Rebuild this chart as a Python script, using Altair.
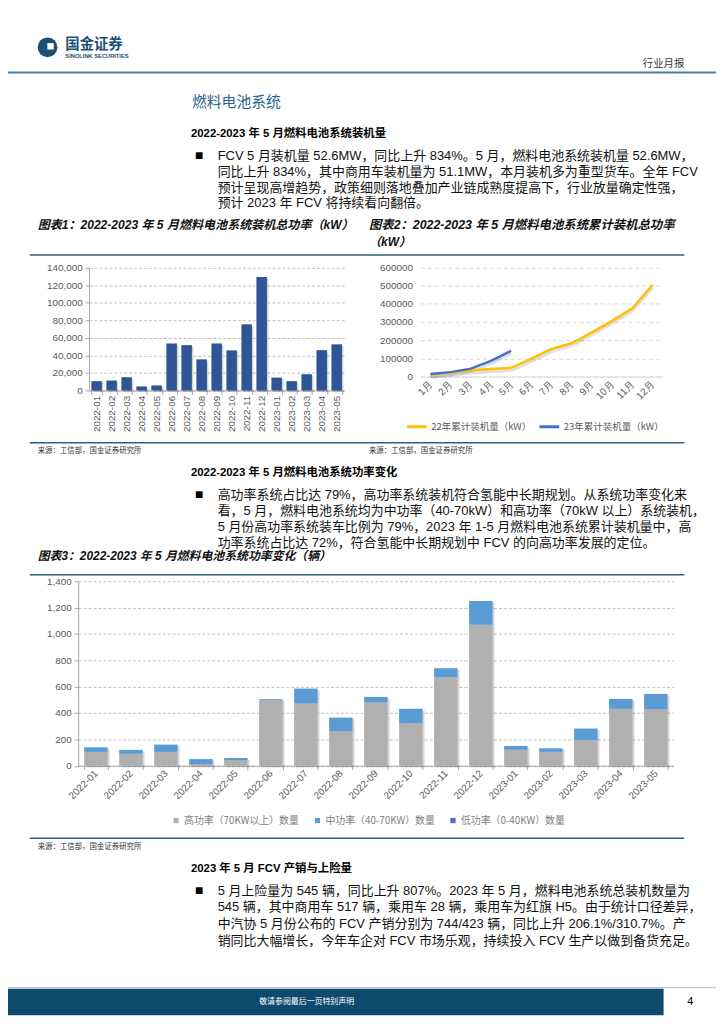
import altair as alt
import pandas as pd

# ---------------- data ----------------
months = ["2022-01", "2022-02", "2022-03", "2022-04", "2022-05", "2022-06", "2022-07",
          "2022-08", "2022-09", "2022-10", "2022-11", "2022-12", "2023-01", "2023-02",
          "2023-03", "2023-04", "2023-05"]
power_kw = [10600, 11300, 15100, 4500, 5700, 53600, 51700, 35500, 53600, 45700, 75500,
            129400, 14700, 10600, 18500, 46000, 52600]
y1_ticks = [0, 20000, 40000, 60000, 80000, 100000, 120000, 140000]

cum_months = ["1月", "2月", "3月", "4月", "5月", "6月", "7月", "8月", "9月", "10月", "11月", "12月"]
series_names = ["22年累计装机量（kW）", "23年累计装机量（kW）"]
cum22 = [11000, 22000, 35000, 42000, 48000, 98000, 152000, 183000, 243000, 306000, 375000, 503000]
cum23 = [14700, 24500, 43500, 86000, 141000]
y2_ticks = [0, 100000, 200000, 300000, 400000, 500000, 600000]

power_types = ["高功率（70KW以上）数量", "中功率（40-70KW）数量", "低功率（0-40KW）数量"]
high_cnt = [105, 90, 105, 12, 42, 500, 472, 262, 480, 322, 672, 1070, 120, 105, 195, 432, 430]
mid_cnt = [35, 30, 55, 38, 16, 7, 113, 103, 42, 110, 68, 180, 30, 27, 87, 75, 115]
low_cnt = [0, 0, 0, 0, 0, 0, 0, 0, 0, 0, 0, 0, 0, 0, 0, 0, 0]
y3_ticks = [0, 200, 400, 600, 800, 1000, 1200, 1400]

para1 = ["FCV 5 月装机量 52.6MW，同比上升 834%。5 月，燃料电池系统装机量 52.6MW，",
         "同比上升 834%，其中商用车装机量为 51.1MW，本月装机多为重型货车。全年 FCV",
         "预计呈现高增趋势，政策细则落地叠加产业链成熟度提高下，行业放量确定性强，",
         "预计 2023 年 FCV 将持续看向翻倍。"]
para2 = ["高功率系统占比达 79%，高功率系统装机符合氢能中长期规划。从系统功率变化来",
         "看，5 月，燃料电池系统均为中功率（40-70kW）和高功率（70kW 以上）系统装机，",
         "5 月份高功率系统装车比例为 79%，2023 年 1-5 月燃料电池系统累计装机量中，高",
         "功率系统占比达 72%，符合氢能中长期规划中 FCV 的向高功率发展的定位。"]
para3 = ["5 月上险量为 545 辆，同比上升 807%。2023 年 5 月，燃料电池系统总装机数量为",
         "545 辆，其中商用车 517 辆，乘用车 28 辆，乘用车为红旗 H5。由于统计口径差异，",
         "中汽协 5 月份公布的 FCV 产销分别为 744/423 辆，同比上升 206.1%/310.7%。产",
         "销同比大幅增长，今年车企对 FCV 市场乐观，持续投入 FCV 生产以做到备货充足。"]

# ---------------- layout helpers ----------------
W, H = 716, 1016
FONT = "Liberation Sans, Noto Sans CJK SC"
CJK = "Noto Sans CJK SC"
one = pd.DataFrame({"k": [0]})


def P(v):
    return v - 8


def txt(x, y, s, size, color="#000000", weight="normal", align="left", style="normal", font=FONT):
    return alt.Chart(one).mark_text(align=align, baseline="middle", fontSize=size, font=font,
                                    fontWeight=weight, fontStyle=style, color=color).encode(
        x=alt.value(P(x)), y=alt.value(P(y)), text=alt.value(s))


def hline(x1, x2, y, color, w):
    return alt.Chart(one).mark_rule(color=color, strokeWidth=w).encode(
        x=alt.value(P(x1)), x2=alt.value(P(x2)), y=alt.value(P(y)))


def box(x1, x2, y1, y2, color):
    return alt.Chart(one).mark_rect(color=color).encode(
        x=alt.value(P(x1)), x2=alt.value(P(x2)), y=alt.value(P(y1)), y2=alt.value(P(y2)))


def dot(x, y, size, color, shape="circle"):
    return alt.Chart(one).mark_point(shape=shape, filled=True, size=size, color=color, opacity=1).encode(
        x=alt.value(P(x)), y=alt.value(P(y)))


BODY = 13.1
deco = []
# header
deco.append(dot(48, 42, 400, "#1B4F77"))
deco.append(dot(51, 41, 42, "#FFFFFF", "square"))
deco.append(txt(66, 40, "国金证券", 14.5, "#1B4F77", "bold", font=CJK))
deco.append(txt(66, 51, "SINOLINK SECURITIES", 5.8, "#1B4F77", "bold"))
deco.append(txt(692, 59, "行业月报", 10.5, "#333333", align="right", font=CJK))
deco.append(hline(8, 724, 67.5, "#4F7FA0", 2))
deco.append(txt(194, 97, "燃料电池系统", 15, "#2B6290", font=CJK))

# section 1
deco.append(txt(193, 130, "2022-2023 年 5 月燃料电池系统装机量", 11.5, "#000000", "bold"))
deco.append(txt(197, 152, "■", 8.5, "#000000", font=CJK))
for i, line in enumerate(para1):
    deco.append(txt(220, 152 + 16 * i, line, BODY, "#111111"))

deco.append(txt(38, 222, "图表1：2022-2023 年 5 月燃料电池系统装机总功率（kW）", 12.2, "#111111", "bold", style="italic"))
deco.append(txt(373, 222, "图表2：2022-2023 年 5 月燃料电池系统累计装机总功率", 12.5, "#111111", "bold", style="italic"))
deco.append(txt(373, 239, "（kW）", 12.2, "#111111", "bold", style="italic"))
deco.append(hline(30, 692, 252, "#2F5F80", 1.5))
deco.append(hline(30, 692, 442, "#2F5F80", 1.5))
deco.append(txt(38, 450, "来源：工信部，国金证券研究所", 7.5, "#333333"))
deco.append(txt(373, 450, "来源：工信部，国金证券研究所", 7.5, "#333333"))

# section 2
deco.append(txt(193, 473, "2022-2023 年 5 月燃料电池系统功率变化", 11.5, "#000000", "bold"))
deco.append(txt(197, 495, "■", 8.5, "#000000", font=CJK))
for i, line in enumerate(para2):
    deco.append(txt(220, 495 + 16 * i, line, BODY, "#111111"))
deco.append(txt(38, 557, "图表3：2022-2023 年 5 月燃料电池系统功率变化（辆）", 12, "#111111", "bold", style="italic"))
deco.append(hline(30, 692, 575.5, "#2F5F80", 1.5))
deco.append(hline(30, 692, 842, "#2F5F80", 1.5))
deco.append(txt(38, 851, "来源：工信部，国金证券研究所", 7.5, "#333333"))

# section 3
deco.append(txt(193, 873, "2023 年 5 月 FCV 产销与上险量", 11.5, "#000000", "bold"))
deco.append(txt(197, 895, "■", 8.5, "#000000", font=CJK))
for i, line in enumerate(para3):
    deco.append(txt(220, 895 + 16.8 * i, line, BODY, "#111111"))

# footer
deco.append(hline(8, 724, 993, "#A9C1D1", 1))
deco.append(box(8, 671, 994, 1021, "#0D4A6D"))
deco.append(txt(310, 1007.5, "敬请参阅最后一页特别声明", 8, "#FFFFFF", align="center", font=CJK))
deco.append(txt(698, 1007.5, "4", 11, "#000000", align="center"))

AX = dict(labelFont="Liberation Sans", labelColor="#595959", title=None)

# ---------------- chart 1 ----------------
df1 = pd.DataFrame({"month": months, "kw": power_kw})
x1 = alt.X("month:N", sort=months,
           scale=alt.Scale(range=[P(90), P(348)], paddingInner=0.3, paddingOuter=0.15),
           axis=alt.Axis(orient="bottom", offset=P(389) - H, labelAngle=270, labelAlign="right",
                         labelBaseline="middle", tickBand="extent", domainColor="#A6A6A6",
                         tickColor="#A6A6A6", tickSize=4, labelFontSize=10, labelPadding=1,
                         grid=False, labelOverlap=False, **AX))
y1 = alt.Y("kw:Q", scale=alt.Scale(domain=[0, 140000], range=[P(389), P(265)], nice=False),
           axis=alt.Axis(orient="left", offset=-P(90), values=y1_ticks, format=",.0f", grid=True,
                         gridDash=[3, 2], gridColor="#BFBFBF", domainColor="#A6A6A6",
                         tickColor="#A6A6A6", tickSize=4, labelFontSize=10, labelPadding=3, **AX))
c1_shadow = alt.Chart(df1).mark_bar(color="#000000", opacity=0.18, xOffset=1.5, yOffset=1.5).encode(x=x1, y=y1)
c1_bars = alt.Chart(df1).mark_bar(color="#2F5597").encode(x=x1, y=y1)
c1 = alt.layer(c1_shadow, c1_bars)

# ---------------- chart 2 ----------------
rows2 = []
for m, v in zip(cum_months, cum22):
    rows2.append({"m": m, "series": series_names[0], "v": v})
for m, v in zip(cum_months, cum23):
    rows2.append({"m": m, "series": series_names[1], "v": v})
df2 = pd.DataFrame(rows2)
x2 = alt.X("m:N", sort=cum_months,
           scale=alt.Scale(type="point", range=[P(425), P(670)], padding=0.5),
           axis=alt.Axis(orient="bottom", offset=P(375) - H, labelAngle=315, labelAlign="right",
                         labelBaseline="middle", domainColor="#D9D9D9", ticks=False,
                         labelFontSize=10, labelPadding=6, grid=False, labelOverlap=False, **AX))
y2 = alt.Y("v:Q", scale=alt.Scale(domain=[0, 600000], range=[P(375), P(264.5)], nice=False),
           axis=alt.Axis(orient="left", offset=-P(425), values=y2_ticks, format="d", grid=True,
                         gridDash=[4, 3], gridColor="#D9D9D9", domain=False, ticks=False,
                         labelFontSize=10, labelPadding=8, **AX))
col2 = alt.Color("series:N", scale=alt.Scale(domain=series_names, range=["#FFC000", "#4472C4"]),
                 legend=alt.Legend(orient="none", legendX=P(410), legendY=P(414), direction="horizontal",
                                   title=None, symbolType="stroke", symbolStrokeWidth=3, symbolSize=400,
                                   labelFontSize=9.6, labelColor="#595959", labelFont=CJK,
                                   columnPadding=1, labelOffset=3))
c2_shadow = alt.Chart(df2).mark_line(color="#000000", opacity=0.12, strokeWidth=3.5, yOffset=2.5).encode(
    x=x2, y=y2, detail="series:N")
c2_lines = alt.Chart(df2).mark_line(strokeWidth=2.5).encode(x=x2, y=y2, color=col2)
c2 = alt.layer(c2_shadow, c2_lines)

# ---------------- chart 3 ----------------
rows3 = []
for i, m in enumerate(months):
    for k, vals in enumerate([high_cnt, mid_cnt, low_cnt]):
        rows3.append({"month": m, "type": power_types[k], "cnt": vals[i], "ord": k})
df3 = pd.DataFrame(rows3)
x3 = alt.X("month:N", sort=months,
           scale=alt.Scale(range=[P(79), P(681)], paddingInner=0.33, paddingOuter=0.17),
           axis=alt.Axis(orient="bottom", offset=P(768.5) - H, labelAngle=315, labelAlign="right",
                         labelBaseline="middle", tickBand="extent", domainColor="#A6A6A6",
                         tickColor="#A6A6A6", tickSize=4, labelFontSize=10, labelPadding=2,
                         grid=False, labelOverlap=False, **AX))
y3_axis = alt.Axis(orient="left", offset=-P(79), values=y3_ticks, format=",.0f", grid=True,
                   gridDash=[3, 2], gridColor="#BFBFBF", domainColor="#A6A6A6",
                   tickColor="#A6A6A6", tickSize=4, labelFontSize=10, labelPadding=3, **AX)
y3_scale = alt.Scale(domain=[0, 1400], range=[P(768.5), P(582)], nice=False)
y3 = alt.Y("cnt:Q", stack="zero", scale=y3_scale, axis=y3_axis)
y3s = alt.Y("total:Q", scale=y3_scale, axis=y3_axis)
col3 = alt.Color("type:N", scale=alt.Scale(domain=power_types, range=["#B0B0B0", "#5B9BD5", "#4472C4"]),
                 legend=alt.Legend(orient="none", legendX=P(173), legendY=P(819), direction="horizontal",
                                   title=None, symbolType="square", symbolSize=28, symbolStrokeWidth=0,
                                   labelFontSize=10, labelColor="#7F7F7F", labelFont=CJK,
                                   columnPadding=13, labelOffset=3))
c3_shadow = alt.Chart(df3).transform_aggregate(total="sum(cnt)", groupby=["month"]).mark_bar(
    color="#000000", opacity=0.16, xOffset=2, yOffset=1.5).encode(x=x3, y=y3s)
c3_bars = alt.Chart(df3).mark_bar().encode(x=x3, y=y3, color=col3, order=alt.Order("ord:Q"))
c3 = alt.layer(c3_shadow, c3_bars)

chart = alt.layer(*deco, c1, c2, c3).resolve_scale(
    x="independent", y="independent", color="independent"
).resolve_axis(x="independent", y="independent").resolve_legend(color="independent").properties(
    width=W, height=H, autosize=alt.AutoSizeParams(type="none"), padding=0
).configure_view(stroke=None)

chart.save("out.html", embed_options={"renderer": "svg", "actions": False})
